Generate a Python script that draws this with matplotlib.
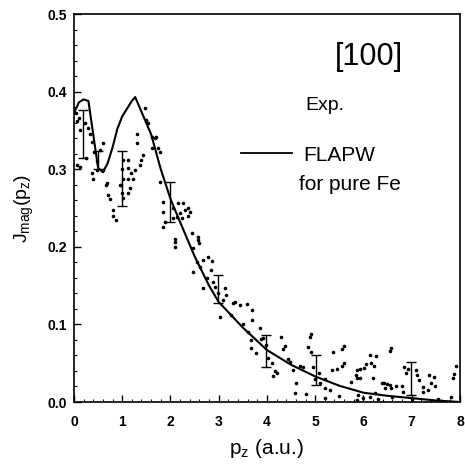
import numpy as np
import matplotlib.pyplot as plt
from matplotlib.ticker import MultipleLocator

# FLAPW curve for pure Fe
calc_pz = [0.0, 0.1, 0.2, 0.3, 0.4, 0.5, 0.6, 0.7, 0.8, 0.9, 1.0, 1.1, 1.2, 1.27,
           1.4, 1.6, 1.8, 2.0, 2.2, 2.5, 2.8, 3.0, 3.5, 4.0, 4.5, 5.0, 5.5, 6.0,
           6.5, 7.0, 7.5, 8.0]
calc_j = [0.372, 0.386, 0.390, 0.388, 0.345, 0.302, 0.296, 0.308, 0.328, 0.352,
          0.368, 0.378, 0.388, 0.393, 0.374, 0.345, 0.300, 0.262, 0.232, 0.188,
          0.150, 0.129, 0.096, 0.067, 0.048, 0.033, 0.021, 0.012, 0.008, 0.005,
          0.002, 0.000]

# experimental points
exp_pz = [0.04, 0.06, 0.10, 0.12, 0.23, 0.30, 0.33, 0.37, 0.06, 0.12, 0.25, 0.42,
          0.47, 0.47, 0.40, 0.55, 0.60, 0.60, 0.66, 0.71, 0.74, 0.81, 0.82, 0.88,
          0.98, 1.02, 1.12, 1.12, 1.19, 1.22, 1.12, 1.02, 0.95, 1.16, 1.02, 1.30,
          1.30, 1.37, 1.40, 1.43, 1.47, 1.50, 1.53, 1.62, 1.68, 1.71, 1.62, 1.74,
          1.78, 1.78, 0.37, 0.68, 0.99, 0.99, 1.26, 1.12,
          1.85, 1.85, 1.88, 1.85, 2.05, 2.05, 2.13, 2.16, 2.26, 2.20, 2.30, 2.36,
          2.36, 2.23, 2.09, 2.09, 2.10, 2.44, 2.58, 2.60, 2.47, 2.67, 2.78, 2.86,
          2.61, 2.47, 2.55, 2.88, 2.92, 3.13, 3.16, 2.67, 2.98, 3.08, 3.30, 3.45,
          3.58, 3.02, 3.26, 3.33, 2.75, 2.85, 2.40, 2.57,
          3.70, 3.70, 3.68, 3.68, 3.87, 3.92, 3.78, 3.99, 4.02, 4.16, 4.20, 4.12,
          4.30, 4.33, 4.38, 4.43, 4.47, 4.54, 4.68, 4.74, 4.89, 4.92, 4.85, 4.92,
          4.61, 4.58, 5.09, 5.00, 5.10, 5.20, 5.20, 5.37, 5.55, 5.60, 5.35, 5.45,
          5.55, 5.60, 5.75, 5.86, 5.86, 5.88, 5.30, 5.50, 5.20, 4.80, 4.95, 3.50,
          3.85, 4.10, 3.60,
          6.58, 6.55, 6.13, 6.27, 6.06, 6.15, 6.23, 5.92, 6.02, 5.85, 5.92, 6.19,
          6.38, 6.43, 6.48, 6.56, 6.58, 6.44, 6.68, 6.80, 6.82, 6.85, 6.88, 6.92,
          7.10, 7.12, 7.16, 7.23, 7.23, 7.33, 7.37, 7.47, 7.40, 7.48, 7.82, 7.85,
          7.88, 7.92, 5.86, 6.00, 6.13, 6.30, 6.60, 7.00, 7.55, 6.25]
exp_j = [0.372, 0.362, 0.366, 0.350, 0.360, 0.353, 0.345, 0.335, 0.305, 0.303,
         0.315, 0.322, 0.310, 0.299, 0.288, 0.325, 0.334, 0.299, 0.280, 0.267,
         0.262, 0.247, 0.240, 0.234, 0.280, 0.312, 0.312, 0.302, 0.295, 0.288,
         0.288, 0.288, 0.280, 0.276, 0.263, 0.346, 0.334, 0.305, 0.312, 0.318,
         0.379, 0.363, 0.360, 0.342, 0.340, 0.342, 0.328, 0.328, 0.322, 0.284,
         0.295, 0.282, 0.300, 0.270, 0.299, 0.270,
         0.258, 0.245, 0.232, 0.226, 0.237, 0.250, 0.239, 0.256, 0.256, 0.244,
         0.247, 0.240, 0.250, 0.237, 0.206, 0.200, 0.210, 0.218, 0.209, 0.205,
         0.198, 0.183, 0.187, 0.182, 0.174, 0.168, 0.180, 0.155, 0.148, 0.147,
         0.138, 0.147, 0.140, 0.131, 0.128, 0.125, 0.126, 0.110, 0.112, 0.129,
         0.160, 0.170, 0.245, 0.213,
         0.119, 0.106, 0.080, 0.070, 0.081, 0.083, 0.063, 0.073, 0.057, 0.040,
         0.038, 0.033, 0.084, 0.068, 0.072, 0.055, 0.052, 0.041, 0.046, 0.045,
         0.084, 0.088, 0.071, 0.065, 0.024, 0.011, 0.037, 0.030, 0.025, 0.018,
         0.030, 0.065, 0.068, 0.072, 0.041, 0.043, 0.046, 0.050, 0.026, 0.031,
         0.041, 0.009, 0.015, 0.008, 0.005, 0.010, 0.045, 0.100, 0.095, 0.050,
         0.090,
         0.069, 0.066, 0.060, 0.059, 0.049, 0.050, 0.047, 0.043, 0.044, 0.035,
         0.031, 0.031, 0.024, 0.025, 0.023, 0.022, 0.018, 0.018, 0.020, 0.020,
         0.013, 0.045, 0.037, 0.042, 0.041, 0.035, 0.028, 0.019, 0.013, 0.015,
         0.035, 0.032, 0.024, 0.020, 0.007, 0.031, 0.036, 0.046, 0.003, 0.005,
         0.006, 0.004, 0.006, 0.004, 0.004, 0.012]

# error bars (position, low end, high end)
bar_pz = [0.19, 0.50, 0.99, 1.99, 2.99, 3.99, 5.02, 6.99]
bar_lo = [0.314, 0.300, 0.252, 0.232, 0.127, 0.045, 0.022, 0.009]
bar_hi = [0.376, 0.324, 0.323, 0.284, 0.164, 0.086, 0.060, 0.051]

plt.rcParams['font.family'] = ['Liberation Sans', 'DejaVu Sans']

fig = plt.figure(figsize=(4.65, 4.68), dpi=100)
ax = fig.add_axes([0.159, 0.141, 0.830, 0.829])

ax.plot(exp_pz, exp_j, 'o', color='black', markersize=2.6, markeredgewidth=0)
ax.plot(calc_pz, calc_j, '-', color='black', lw=1.5)

bar_mid = (np.array(bar_lo) + np.array(bar_hi)) / 2
bar_half = (np.array(bar_hi) - np.array(bar_lo)) / 2
ax.errorbar(bar_pz, bar_mid, yerr=bar_half, fmt='none', ecolor='black',
            elinewidth=1.0, capsize=3.5, capthick=1.0)

ax.set_xlim(0, 8)
ax.set_ylim(0, 0.5)
ax.xaxis.set_major_locator(MultipleLocator(1))
ax.xaxis.set_minor_locator(MultipleLocator(0.2))
ax.yaxis.set_major_locator(MultipleLocator(0.1))
ax.yaxis.set_minor_locator(MultipleLocator(0.02))
ax.tick_params(which='both', direction='in', top=False, right=False)
ax.tick_params(which='major', length=5, width=1.0, labelsize=10)
ax.tick_params(axis='x', which='major', pad=9)
ax.tick_params(axis='y', which='major', pad=5)
ax.tick_params(which='minor', length=2.5, width=0.8)
ax.set_yticks([0.0, 0.1, 0.2, 0.3, 0.4, 0.5])
ax.set_yticklabels(['0.0', '0.1', '0.2', '0.3', '0.4', '0.5'], fontweight='bold')
ax.set_xticks(range(9))
ax.set_xticklabels([str(i) for i in range(9)], fontweight='bold')
for sp in ax.spines.values():
    sp.set_linewidth(1.2)

ax.set_xlabel(r'p$_\mathregular{z}$ (a.u.)', fontsize=15, labelpad=6)
ax.set_ylabel(r'J$_\mathregular{mag}$(p$_\mathregular{z}$)', fontsize=14, labelpad=8)

ax.text(6.11, 0.434, '[100]', fontsize=22, ha='center', va='baseline')
ax.text(4.80, 0.376, 'Exp.', fontsize=14, ha='left', va='baseline')
ax.plot([3.47, 4.53], [0.321, 0.321], '-', color='black', lw=1.3)
ax.text(4.76, 0.310, 'FLAPW', fontsize=15, ha='left', va='baseline')
ax.text(4.66, 0.273, 'for pure Fe', fontsize=15, ha='left', va='baseline')

fig.savefig('out.png', dpi=100)
